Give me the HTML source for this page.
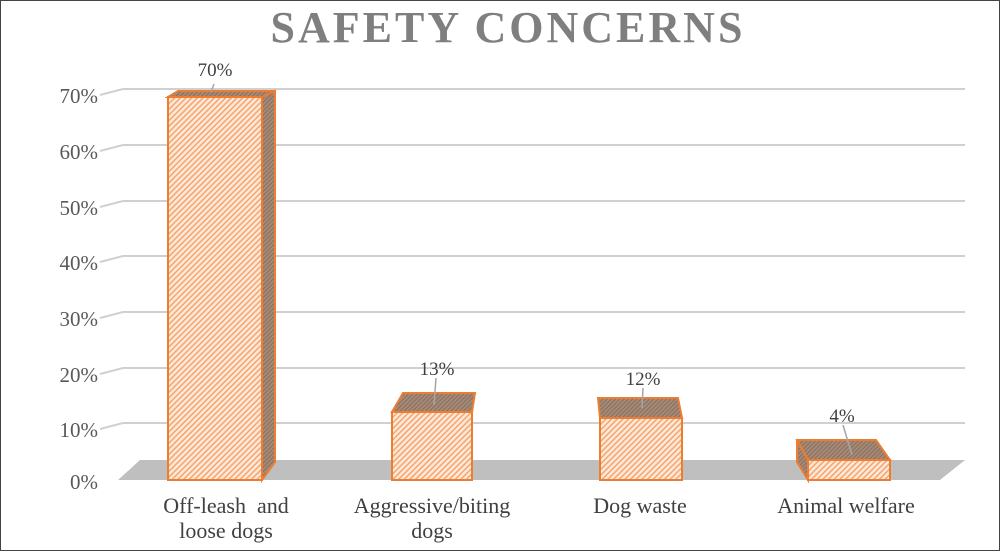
<!DOCTYPE html><html><head><style>body{margin:0;background:#fff}svg{display:block}</style></head><body>
<svg width="1000" height="551" viewBox="0 0 1000 551" xmlns="http://www.w3.org/2000/svg" font-family="Liberation Serif, serif">
<defs>
<pattern id="h" width="4" height="4" patternUnits="userSpaceOnUse" patternTransform="rotate(45)"><rect width="4" height="4" fill="#fde8da"/><rect width="1.5" height="4" fill="#f5a56c"/></pattern>
<pattern id="d" width="3" height="3" patternUnits="userSpaceOnUse" patternTransform="rotate(45)"><rect width="3" height="3" fill="#a58a78"/><rect width="1" height="3" fill="#8a6d5c"/></pattern>
</defs>
<rect x="0.5" y="0.5" width="999" height="550" fill="#fff" stroke="#444"/>
<text x="508" y="42" text-anchor="middle" font-size="44" font-weight="bold" fill="#7f7f7f" letter-spacing="3">SAFETY CONCERNS</text>
<g stroke="#d0d0d0" stroke-width="2" fill="none">
<polyline points="100,95 123,89 965,89"/><polyline points="100,151 123,145 965,145"/><polyline points="100,207 123,201 965,201"/><polyline points="100,262 123,256 965,256"/><polyline points="100,318 123,312 965,312"/><polyline points="100,374 123,368 965,368"/><polyline points="100,429 123,423 965,423"/>
</g>
<polygon points="118,480 940,480 965,460 140,460" fill="#bfbfbf"/>
<g font-size="21" fill="#595959" text-anchor="end">
<text x="98" y="103">70%</text><text x="98" y="159">60%</text><text x="98" y="215">50%</text><text x="98" y="270">40%</text><text x="98" y="326">30%</text><text x="98" y="382">20%</text><text x="98" y="437">10%</text><text x="98" y="489">0%</text>
</g>
<g stroke="#ed7d31" stroke-width="2">
<polygon points="262,97 275,91 275,462 262,480" fill="url(#d)"/>
<polygon points="168,97 178,91 275,91 262,97" fill="url(#d)"/>
<rect x="168" y="97" width="94" height="383" fill="url(#h)"/>
<polygon points="392,412 403,393 475,393 472,412" fill="url(#d)"/>
<rect x="392" y="412" width="80" height="68" fill="url(#h)"/>
<polygon points="600,418 598,398 678,398 682,418" fill="url(#d)"/>
<rect x="600" y="418" width="82" height="62" fill="url(#h)"/>
<polygon points="808,460 797,440 876,440 890,460" fill="url(#d)"/>
<polygon points="797,440 808,460 808,480 797,462" fill="url(#d)"/>
<rect x="808" y="460" width="82" height="20" fill="url(#h)"/>
</g>
<g stroke="#a6a6a6" stroke-width="1.5"><line x1="214" y1="84" x2="211" y2="92"/><line x1="436" y1="378" x2="434" y2="405"/><line x1="643" y1="388" x2="642" y2="408"/><line x1="843" y1="425" x2="852" y2="455"/></g>
<g font-size="19" fill="#404040" text-anchor="middle">
<text x="215" y="76">70%</text><text x="437" y="375">13%</text><text x="643" y="385">12%</text><text x="842" y="422">4%</text>
</g>
<g font-size="22" fill="#404040" text-anchor="middle">
<text x="226" y="513" xml:space="preserve">Off-leash  and</text><text x="226" y="538">loose dogs</text>
<text x="432" y="513">Aggressive/biting</text><text x="432" y="538">dogs</text>
<text x="640" y="513">Dog waste</text>
<text x="846" y="513">Animal welfare</text>
</g>
</svg></body></html>
